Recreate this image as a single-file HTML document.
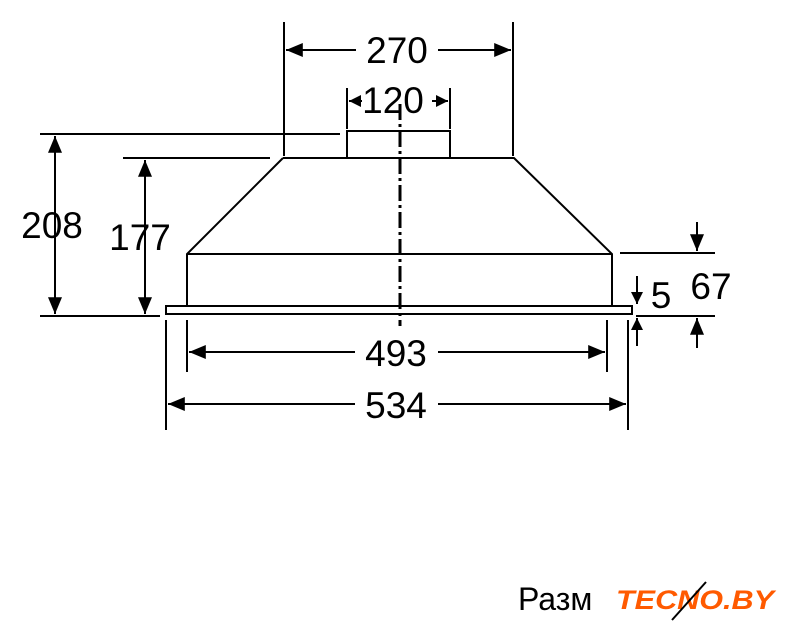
<!DOCTYPE html>
<html><head><meta charset="utf-8"><style>body{margin:0;background:#fff}svg{display:block}</style></head><body>
<svg width="785" height="640" viewBox="0 0 785 640" xmlns="http://www.w3.org/2000/svg">
<defs>
<marker id="a" viewBox="0 0 10 10" refX="10" refY="5" markerWidth="16" markerHeight="12" markerUnits="userSpaceOnUse" orient="auto-start-reverse"><path d="M0,0 L10,5 L0,10z" fill="#000"/></marker>
<marker id="b" viewBox="0 0 12 10" refX="12" refY="5" markerWidth="18" markerHeight="14" markerUnits="userSpaceOnUse" orient="auto-start-reverse"><path d="M0,0 L12,5 L0,10z" fill="#000"/></marker>
</defs>
<g stroke="#000" stroke-width="2" fill="none">
<path d="M283,158 L514,158 L612,254 L612,306 M283,158 L187,254 L187,306 M187,254 L612,254"/>
<rect x="166" y="306" width="466" height="8"/>
<rect x="347" y="131" width="103" height="27" fill="#fff"/>
<line x1="400" y1="104" x2="400" y2="326" stroke-dasharray="16,4,3,4" stroke-width="3"/>
<line x1="284" y1="22" x2="284" y2="156"/>
<line x1="513" y1="22" x2="513" y2="156"/>
<line x1="347" y1="88" x2="347" y2="129"/>
<line x1="450" y1="88" x2="450" y2="129"/>
<line x1="40" y1="134" x2="340" y2="134"/>
<line x1="40" y1="316" x2="160" y2="316"/>
<line x1="123" y1="158" x2="270" y2="158"/>
<line x1="620" y1="253" x2="715" y2="253"/>
<line x1="636" y1="316" x2="715" y2="316"/>
<line x1="187" y1="320" x2="187" y2="372"/>
<line x1="607" y1="320" x2="607" y2="372"/>
<line x1="166" y1="320" x2="166" y2="430"/>
<line x1="628" y1="320" x2="628" y2="430"/>
<line x1="286" y1="50" x2="356" y2="50" marker-start="url(#b)"/>
<line x1="438" y1="50" x2="511" y2="50" marker-end="url(#b)"/>
<line x1="349" y1="101" x2="362" y2="101" marker-start="url(#a)"/>
<line x1="432" y1="101" x2="448" y2="101" marker-end="url(#a)"/>
<line x1="55" y1="136" x2="55" y2="314" marker-start="url(#b)" marker-end="url(#b)"/>
<line x1="145" y1="160" x2="145" y2="314" marker-start="url(#b)" marker-end="url(#b)"/>
<line x1="697" y1="222" x2="697" y2="251" marker-end="url(#b)"/>
<line x1="697" y1="318" x2="697" y2="348" marker-start="url(#b)"/>
<line x1="637" y1="276" x2="637" y2="304" marker-end="url(#a)"/>
<line x1="637" y1="318" x2="637" y2="346" marker-start="url(#a)"/>
<line x1="189" y1="352" x2="355" y2="352" marker-start="url(#b)"/>
<line x1="438" y1="352" x2="605" y2="352" marker-end="url(#b)"/>
<line x1="168" y1="404" x2="355" y2="404" marker-start="url(#b)"/>
<line x1="438" y1="404" x2="626" y2="404" marker-end="url(#b)"/>
</g>
<g font-family="Liberation Sans, sans-serif" font-size="37" fill="#000" text-anchor="middle">
<text x="397" y="63">270</text>
<text x="393" y="113">120</text>
<text x="52" y="238">208</text>
<text x="140" y="250">177</text>
<text x="711" y="299">67</text>
<text x="661" y="308">5</text>
<text x="396" y="366">493</text>
<text x="396" y="418">534</text>
</g>
<text x="518" y="610" font-family="Liberation Sans, sans-serif" font-size="32" fill="#000">Разм</text>
<rect x="608" y="578" width="177" height="44" fill="#fff"/>
<text x="616" y="609" font-family="Liberation Sans, sans-serif" font-weight="bold" font-style="italic" font-size="27" fill="#ff5a00" textLength="158" lengthAdjust="spacingAndGlyphs">TECNO.BY</text>
<line x1="706" y1="582" x2="672" y2="620" stroke="#000" stroke-width="2"/>
</svg>
</body></html>
